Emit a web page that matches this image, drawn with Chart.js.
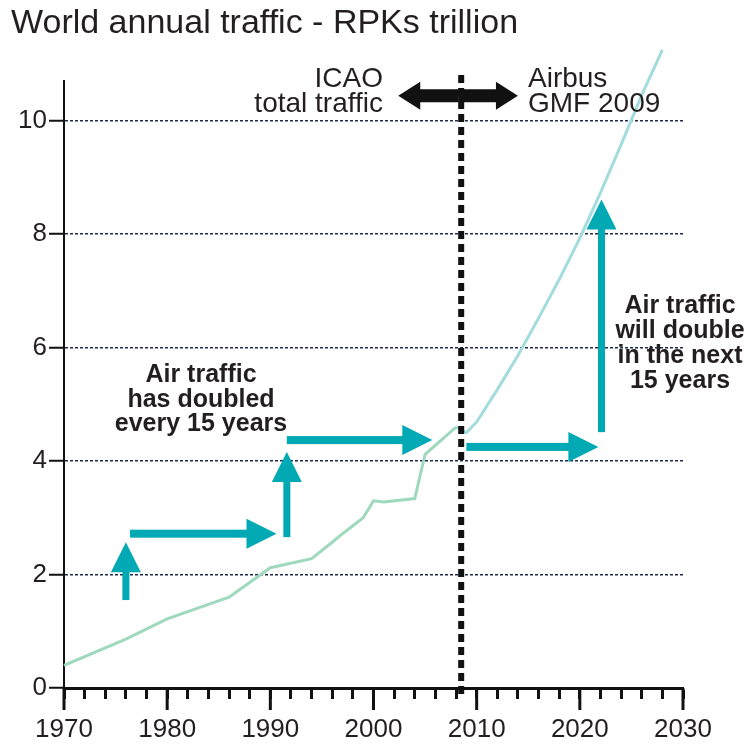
<!DOCTYPE html>
<html>
<head>
<meta charset="utf-8">
<title>World annual traffic - RPKs trillion</title>
<script src="https://cdn.jsdelivr.net/npm/chart.js@4.4.1/dist/chart.umd.min.js"></script>
<style>
  html, body { margin: 0; padding: 0; background: #fff; }
  canvas { display: block; }
</style>
</head>
<body>
<canvas id="trafficChart" width="750" height="744"></canvas>
<script>
// ICAO total traffic, trillion RPKs
const historyYears = [1970, 1976, 1980, 1986, 1990, 1994, 1996, 1997, 1999, 2000, 2001, 2004, 2005, 2008];
const historyRpk = [0.40, 0.86, 1.22, 1.60, 2.12, 2.28, 2.57, 2.72, 3.00, 3.30, 3.28, 3.34, 4.12, 4.60];

// Airbus GMF 2009 forecast
const forecastYears = [2008, 2009, 2010, 2012, 2014, 2016, 2018, 2020, 2022, 2024, 2026, 2028];
const forecastRpk = [4.60, 4.50, 4.69, 5.26, 5.86, 6.52, 7.20, 7.93, 8.73, 9.58, 10.45, 11.25];

const splitYear = 2008.5;

// teal arrows as [fromYear, fromRpk, toYear, toRpk]
const growthArrows = [
  [1976.0, 1.55, 1976.0, 2.57],
  [1976.4, 2.72, 1990.6, 2.72],
  [1991.6, 2.66, 1991.6, 4.16],
  [1991.6, 4.37, 2005.7, 4.37],
  [2009.0, 4.25, 2021.8, 4.25],
  [2022.1, 4.51, 2022.1, 8.61]
];

const pastNote = ['Air traffic', 'has doubled', 'every 15 years'];
const futureNote = ['Air traffic', 'will double', 'in the next', '15 years'];

const FONT = '"Liberation Sans", Arial, Helvetica, sans-serif';
const TEAL = '#00a9b4';
const INK = '#231f20';

function toPoints(xs, ys) {
  return xs.map((x, i) => ({ x: x, y: ys[i] }));
}

function drawArrow(ctx, x1, y1, x2, y2, shaft, headLen, headWidth) {
  const len = Math.hypot(x2 - x1, y2 - y1);
  ctx.save();
  ctx.translate(x1, y1);
  ctx.rotate(Math.atan2(y2 - y1, x2 - x1));
  ctx.fillRect(0, -shaft / 2, len - headLen + 1, shaft);
  ctx.beginPath();
  ctx.moveTo(len, 0);
  ctx.lineTo(len - headLen, -headWidth / 2);
  ctx.lineTo(len - headLen, headWidth / 2);
  ctx.closePath();
  ctx.fill();
  ctx.restore();
}

const annotations = {
  id: 'annotations',
  afterDatasetsDraw(chart) {
    const { ctx, scales: { x, y } } = chart;
    ctx.save();
    ctx.fillStyle = TEAL;
    growthArrows.forEach(([ax, ay, bx, by]) => {
      const horizontal = ay === by;
      drawArrow(ctx, x.getPixelForValue(ax), y.getPixelForValue(ay),
        x.getPixelForValue(bx), y.getPixelForValue(by),
        horizontal ? 8 : 7, 30, 30);
    });
    ctx.restore();
  },
  afterDraw(chart) {
    const { ctx, chartArea, scales: { x, y } } = chart;
    ctx.save();

    // longer ticks on the decades
    ctx.strokeStyle = '#111';
    ctx.lineWidth = 3;
    for (let yr = 1970; yr <= 2030; yr += 10) {
      const px = x.getPixelForValue(yr);
      ctx.beginPath();
      ctx.moveTo(px, chartArea.bottom);
      ctx.lineTo(px, chartArea.bottom + 22);
      ctx.stroke();
    }

    // history / forecast divider
    const sx = x.getPixelForValue(splitYear);
    ctx.lineWidth = 6;
    ctx.setLineDash([8, 5]);
    ctx.beginPath();
    ctx.moveTo(sx, 75);
    ctx.lineTo(sx, chartArea.bottom + 11);
    ctx.stroke();
    ctx.setLineDash([]);

    // double arrow between the two source labels
    ctx.fillStyle = '#111';
    const ay = y.getPixelForValue(10.44);
    const left = x.getPixelForValue(2002.4);
    const right = x.getPixelForValue(2014.0);
    const mid = (left + right) / 2;
    drawArrow(ctx, mid, ay, right, ay, 13, 22, 28);
    drawArrow(ctx, mid, ay, left, ay, 13, 22, 28);

    // title
    ctx.fillStyle = INK;
    ctx.textBaseline = 'alphabetic';
    ctx.textAlign = 'left';
    ctx.font = '34px ' + FONT;
    ctx.fillText('World annual traffic - RPKs trillion', 11, 33);

    // source labels
    ctx.font = '28px ' + FONT;
    ctx.textAlign = 'right';
    ctx.fillText('ICAO', 383, 87);
    ctx.fillText('total traffic', 383, 112);
    ctx.textAlign = 'left';
    ctx.fillText('Airbus', 528, 87);
    ctx.fillText('GMF 2009', 528, 112);

    // growth notes
    ctx.font = 'bold 25px ' + FONT;
    ctx.textAlign = 'center';
    pastNote.forEach((line, i) => ctx.fillText(line, 201, 382 + i * 24.5));
    futureNote.forEach((line, i) => ctx.fillText(line, 680, 313 + i * 25));

    ctx.restore();
  }
};

new Chart(document.getElementById('trafficChart'), {
  type: 'line',
  data: {
    datasets: [
      {
        label: 'ICAO total traffic',
        data: toPoints(historyYears, historyRpk),
        borderColor: '#9fd9bd',
        borderWidth: 3,
        pointRadius: 0,
        tension: 0,
        clip: false
      },
      {
        label: 'Airbus GMF 2009',
        data: toPoints(forecastYears, forecastRpk),
        borderColor: '#a2dcdc',
        borderWidth: 3,
        pointRadius: 0,
        tension: 0,
        clip: false
      }
    ]
  },
  options: {
    responsive: false,
    animation: false,
    layout: { padding: { top: 81, left: 10, right: 67, bottom: 0 } },
    plugins: {
      legend: { display: false },
      tooltip: { enabled: false }
    },
    scales: {
      x: {
        type: 'linear',
        min: 1970,
        max: 2030,
        ticks: {
          stepSize: 2,
          includeBounds: false,
          autoSkip: false,
          maxRotation: 0,
          padding: 15,
          color: INK,
          font: { family: FONT, size: 26 },
          callback: v => (v % 10 === 0 ? String(v) : '')
        },
        grid: {
          drawOnChartArea: false,
          drawTicks: true,
          tickLength: 11,
          tickWidth: 3,
          tickColor: '#111'
        },
        border: { color: '#111', width: 3 },
        afterFit: s => { s.height = 56; }
      },
      y: {
        min: 0,
        max: 10.7,
        ticks: {
          stepSize: 2,
          includeBounds: false,
          padding: 2,
          color: INK,
          font: { family: FONT, size: 26 }
        },
        grid: {
          color: c => (c.tick && c.tick.value === 0 ? 'rgba(0,0,0,0)' : '#1d2c4c'),
          lineWidth: 1.5,
          tickColor: '#111',
          tickWidth: 2,
          tickLength: 15
        },
        border: { color: '#111', width: 2, dash: [3, 2] },
        afterFit: s => { s.width = 54; }
      }
    }
  },
  plugins: [annotations]
});
</script>
</body>
</html>
